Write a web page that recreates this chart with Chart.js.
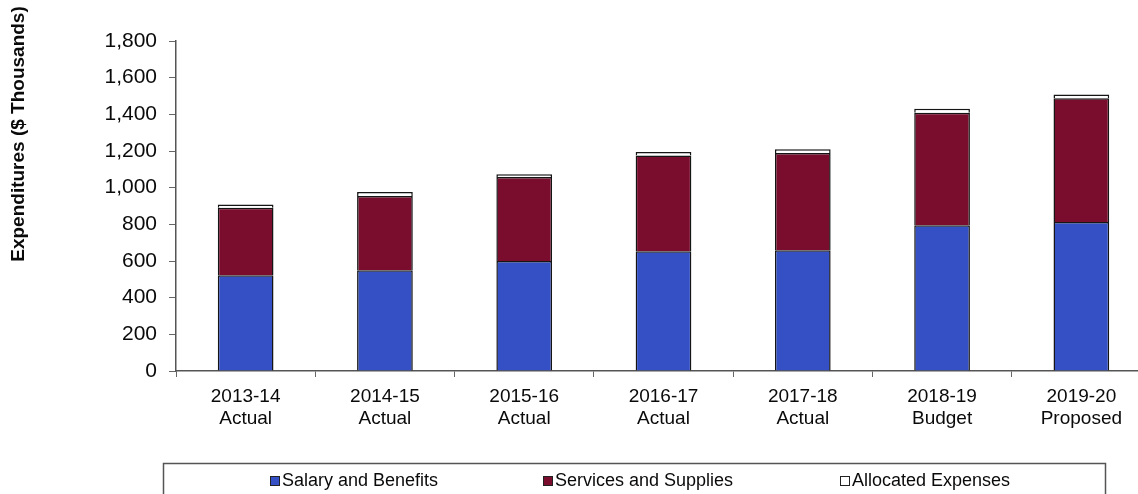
<!DOCTYPE html>
<html>
<head>
<meta charset="utf-8">
<title>Expenditures</title>
<script src="https://cdn.jsdelivr.net/npm/chart.js@4/dist/chart.umd.min.js"></script>
<style>
  html, body { margin: 0; padding: 0; background: #ffffff; overflow: hidden; }
  #wrap { width: 1138px; height: 494px; overflow: hidden; position: relative; }
  canvas { display: block; }
</style>
</head>
<body>
<div id="wrap"><canvas id="chart" width="1160" height="494"></canvas></div>
<script>
// Fiscal years and their status line
const years = ['2013-14', '2014-15', '2015-16', '2016-17', '2017-18', '2018-19', '2019-20'];
const status = ['Actual', 'Actual', 'Actual', 'Actual', 'Actual', 'Budget', 'Proposed'];

// Expenditures in $ thousands
const salaryAndBenefits = [522, 549, 600, 653, 658, 795, 813];
const servicesAndSupplies = [368, 405, 458, 522, 531, 614, 675];
const allocatedExpenses = [18, 22, 15, 20, 20, 22, 20];

const seriesNames = ['Salary and Benefits', 'Services and Supplies', 'Allocated Expenses'];
const yTicks = [0, 200, 400, 600, 800, 1000, 1200, 1400, 1600, 1800];
const yTitle = 'Expenditures ($ Thousands)';

const FONT = '"Liberation Sans", Arial, Helvetica, sans-serif';
const INK = '#0a0a0a';

// Rotated axis title, sitting high on the left edge
const axisTitlePlugin = {
  id: 'axisTitle',
  afterDraw(chart) {
    const ctx = chart.ctx;
    ctx.save();
    ctx.translate(19, 134);
    ctx.rotate(-Math.PI / 2);
    ctx.font = 'bold 19px ' + FONT;
    ctx.fillStyle = INK;
    ctx.textAlign = 'center';
    ctx.textBaseline = 'middle';
    ctx.fillText(yTitle, 0, 0);
    ctx.restore();
  }
};

// Boxed legend along the bottom
const boxLegendPlugin = {
  id: 'boxLegend',
  afterDraw(chart) {
    const ctx = chart.ctx;
    ctx.save();
    ctx.strokeStyle = '#555555';
    ctx.lineWidth = 1.5;
    ctx.strokeRect(163.5, 463.5, 942, 60);
    const slots = [270, 543, 840];
    const cy = 481;
    ctx.font = '18px ' + FONT;
    ctx.textBaseline = 'middle';
    ctx.textAlign = 'left';
    chart.data.datasets.forEach((ds, i) => {
      const x = slots[i];
      ctx.fillStyle = ds.backgroundColor;
      ctx.fillRect(x, cy - 5, 10, 10);
      ctx.strokeStyle = '#222222';
      ctx.lineWidth = 1;
      ctx.strokeRect(x + 0.5, cy - 4.5, 9, 9);
      ctx.fillStyle = INK;
      ctx.fillText(ds.label, x + 12, cy);
    });
    ctx.restore();
  }
};

const bgPlugin = {
  id: 'bg',
  beforeDraw(chart) {
    const ctx = chart.ctx;
    ctx.save();
    ctx.fillStyle = '#ffffff';
    ctx.fillRect(0, 0, chart.width, chart.height);
    ctx.restore();
  }
};

const barStyle = {
  borderColor: '#151515',
  borderWidth: 1.5,
  barPercentage: 0.4,
  categoryPercentage: 1.0
};

new Chart(document.getElementById('chart'), {
  type: 'bar',
  data: {
    labels: years.map((y, i) => [y, status[i]]),
    datasets: [
      Object.assign({ label: seriesNames[0], data: salaryAndBenefits, backgroundColor: '#3450c4' }, barStyle),
      Object.assign({ label: seriesNames[1], data: servicesAndSupplies, backgroundColor: '#7a0c2e' }, barStyle),
      Object.assign({ label: seriesNames[2], data: allocatedExpenses, backgroundColor: '#ffffff' }, barStyle)
    ]
  },
  options: {
    responsive: false,
    devicePixelRatio: 1,
    animation: false,
    layout: { padding: { top: 41, right: 9, bottom: 0, left: 0 } },
    plugins: {
      legend: { display: false },
      tooltip: { enabled: false }
    },
    scales: {
      x: {
        stacked: true,
        grid: {
          display: true,
          offset: true,
          drawOnChartArea: false,
          drawTicks: true,
          tickLength: 6,
          color: '#666666',
          lineWidth: 1
        },
        border: { display: true, color: '#555555', width: 1.5 },
        ticks: {
          color: INK,
          font: { family: FONT, size: 19 },
          padding: 8,
          maxRotation: 0,
          autoSkip: false
        },
        afterFit(scale) { scale.height = 123; }
      },
      y: {
        stacked: true,
        min: yTicks[0],
        max: yTicks[yTicks.length - 1],
        afterBuildTicks(scale) { scale.ticks = yTicks.map(v => ({ value: v })); },
        grid: {
          display: true,
          drawOnChartArea: false,
          drawTicks: true,
          tickLength: 7,
          color: '#666666',
          lineWidth: 1
        },
        border: { display: true, color: '#555555', width: 1.5 },
        ticks: {
          color: INK,
          font: { family: FONT, size: 21 },
          padding: 12,
          callback: v => v.toLocaleString('en-US')
        },
        afterFit(scale) { scale.width = 176; }
      }
    }
  },
  plugins: [bgPlugin, axisTitlePlugin, boxLegendPlugin]
});
</script>
</body>
</html>
